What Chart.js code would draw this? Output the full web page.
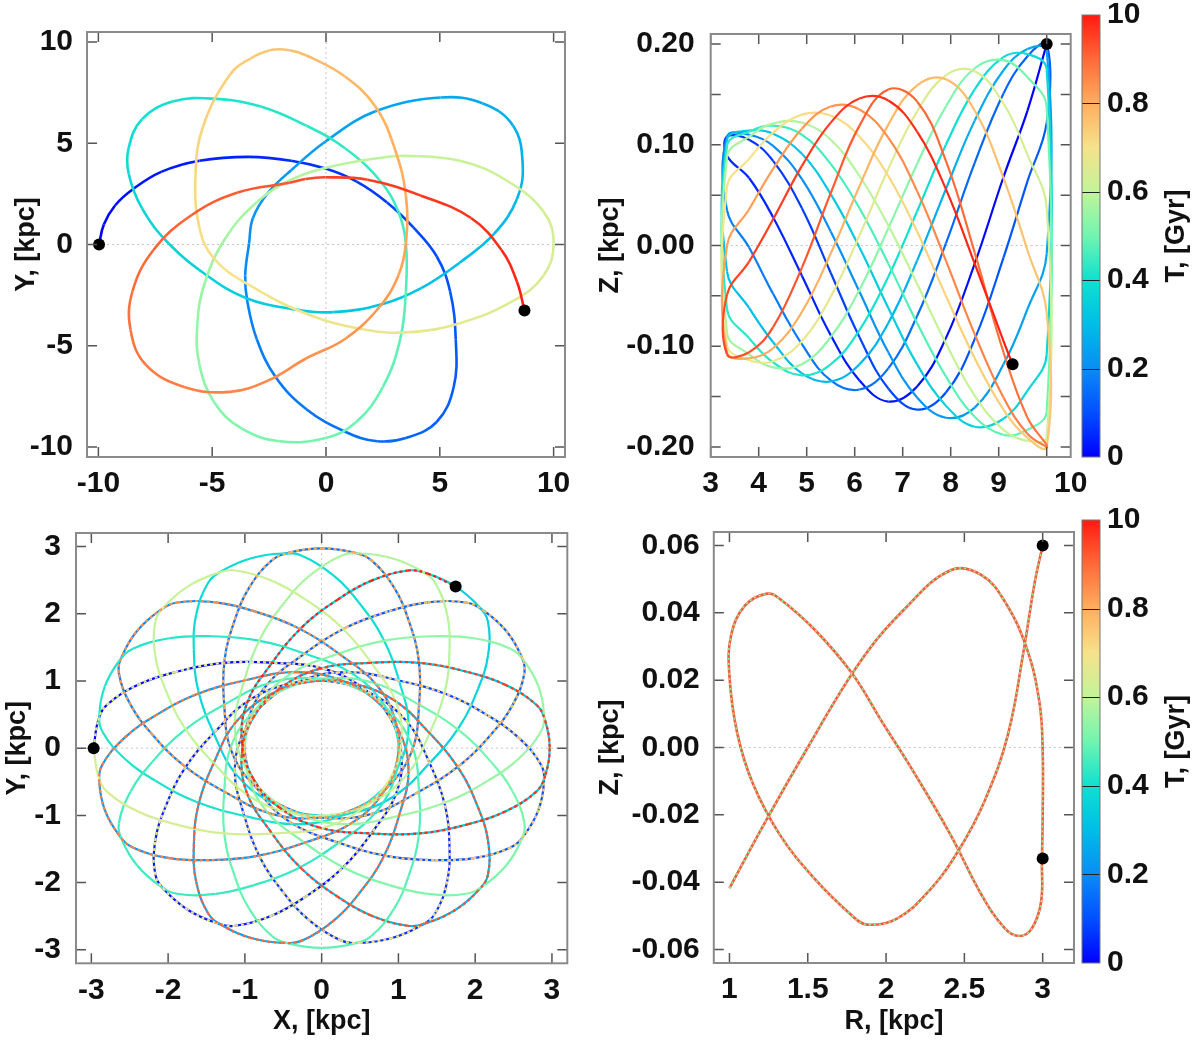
<!DOCTYPE html>
<html lang="en">
<head>
<meta charset="UTF-8">
<title>Orbit projections</title>
<script src="https://cdn.jsdelivr.net/npm/chart.js"></script>
<style>
  html, body { margin: 0; padding: 0; background: #fff; }
  body { width: 1200px; height: 1044px; position: relative; overflow: hidden; }
  canvas { position: absolute; }
</style>
</head>
<body>
<canvas id="xyWide" width="600" height="510" style="left:0;top:0"></canvas>
<canvas id="rzWide" width="505" height="510" style="left:590px;top:0"></canvas>
<canvas id="barTop" width="125" height="520" style="left:1075px;top:-10px"></canvas>
<canvas id="xyInner" width="600" height="544" style="left:0;top:500px"></canvas>
<canvas id="rzInner" width="490" height="544" style="left:590px;top:500px"></canvas>
<canvas id="barBottom" width="125" height="520" style="left:1075px;top:495px"></canvas>

<script>
// colour scale
const cbStops  = [0, 0.1, 0.2, 0.3, 0.4, 0.5, 0.6, 0.7, 0.8, 0.9, 1];
const cbColors = ['#0000ff', '#0050ff', '#0a8cf5', '#00bde8', '#10e0d0', '#70f5b0',
                  '#c2f49a', '#f6e28a', '#ffae5e', '#ff6a38', '#ff1a10'];
const cbTicks  = [0, 0.2, 0.4, 0.6, 0.8, 1];
const cbLabels = ['0', '0.2', '0.4', '0.6', '0.8', '10'];
const cbTitle  = 'T, [Gyr]';

// top left: X-Y orbit, kpc (traced in time order)
const tlX = [-9.97, -9.76, -9.26, -8.5, -7.24, -5.56, -3.38, -1.53, -0.02, 1.33,
  2.67, 3.85, 4.86, 5.45, 5.7, 5.61, 4.86, 3.51, 2.25, 0.82,
  -0.86, -2.2, -3.04, -3.46, -3.55, -3.38, -3.21, -2.54, -1.53, -0.02,
  2.17, 5.03, 6.87, 8.22, 8.64, 8.39, 7.38, 5.87, 4.18, 2.5,
  0.32, -1.53, -3.55, -5.23, -6.91, -8.08, -8.67, -8.67, -8.08, -6.74,
  -4.97, -2.87, -0.86, 0.82, 2.34, 3.18, 3.51, 3.51, 3.26, 2.5,
  1.33, -0.02, -2.03, -3.71, -4.89, -5.56, -5.65, -5.31, -4.39, -3.04,
  -1.53, 0.15, 2.5, 3.51, 5.87, 7.88, 9.56, 10.0, 9.56, 8.22,
  5.87, 3.68, 1.66, -0.86, -3.38, -4.89, -5.56, -5.73, -5.39, -4.22,
  -3.3, -2.37, -1.6, -0.86, 0.82, 2.17, 3.01, 3.51, 3.51, 3.18, 2.34, 0.82,
  -0.86, -2.54, -4.22, -6.24, -7.92, -8.59, -8.5, -7.58, -5.9, -3.88,
  -1.6, -0.9, -0.02, 1.83, 4.18, 6.37, 7.71, 8.39, 8.72];
const tlY = [0, 0.99, 1.94, 2.72, 3.59, 4.14, 4.33, 4.14, 3.75, 3.12,
  2.09, 0.83, -0.58, -2.31, -4.68, -7.04, -8.77, -9.56, -9.72, -9.24,
  -8.14, -6.57, -4.68, -2.79, -1.53, 0.05, 1.31, 2.57, 3.67, 5.09,
  6.58, 7.26, 6.98, 5.87, 3.98, 2.25, 0.52, -0.9, -2.16, -2.94,
  -3.34, -3.18, -2.63, -1.53, 0.05, 1.78, 3.51, 4.77, 6.19, 7.06,
  7.21, 6.82, 5.87, 4.77, 3.2, 1.62, 0.05, -2.31, -4.68, -7.04,
  -8.77, -9.56, -9.72, -9.09, -7.83, -5.94, -3.89, -1.84, 0.36, 2.09,
  3.2, 3.83, 4.3, 4.38, 4.14, 3.2, 1.62, 0.05, -1.53, -2.79,
  -3.89, -4.33, -4.2, -3.42, -2.0, -0.74, 0.83, 3.51, 5.87, 8.39,
  9.2, 9.62, 9.6, 9.34, 8.31, 6.82, 4.77, 2.41, 0.05, -1.53, -3.1, -4.68,
  -5.62, -6.72, -7.28, -7.04, -5.94, -4.2, -2.31, -0.27, 1.46, 2.57,
  3.05, 3.24, 3.32, 3.2, 2.41, 1.31, -0.27, -1.84, -3.26];
const tlTicks = [-10, -5, 0, 5, 10];

// top right: R-Z plane, one row of Z per radial pass (inward, outward, ...)
const trRIn   = [10, 9.6, 9.1, 8.5, 7.9, 7.3, 6.7, 6.1, 5.5, 4.9, 4.3, 3.8, 3.34];
const trROut  = [3.34, 3.8, 4.3, 4.9, 5.5, 6.1, 6.7, 7.3, 7.9, 8.5, 9.1, 9.6, 10];
const trRLast = [3.34, 3.8, 4.3, 4.9, 5.5, 6.1, 6.7, 7.3, 7.9, 8.5, 9.1, 9.29];
const trZPasses = [
  [0.2, 0.134, 0.068, -0.018, -0.092, -0.140, -0.155, -0.134, -0.089, -0.030, 0.028, 0.067, 0.089],
  [0.108, 0.105, 0.084, 0.037, -0.027, -0.091, -0.142, -0.163, -0.146, -0.093, -0.012, 0.064, 0.122],
  [0.2, 0.188, 0.151, 0.082, 0.002, -0.070, -0.122, -0.143, -0.134, -0.098, -0.048, -0.002, 0.035],
  [0.108, 0.110, 0.099, 0.066, 0.014, -0.046, -0.106, -0.151, -0.171, -0.161, -0.118, -0.063, -0.008],
  [0.194, 0.195, 0.174, 0.124, 0.056, -0.015, -0.077, -0.118, -0.135, -0.127, -0.096, -0.062, -0.026],
  [0.105, 0.114, 0.111, 0.091, 0.051, -0.002, -0.062, -0.118, -0.159, -0.180, -0.172, -0.144, -0.108],
  [0.175, 0.190, 0.187, 0.155, 0.100, 0.034, -0.031, -0.084, -0.118, -0.129, -0.116, -0.092, -0.063],
  [0.099, 0.113, 0.119, 0.110, 0.081, 0.037, -0.018, -0.077, -0.130, -0.170, -0.188, -0.183, -0.165],
  [0.137, 0.167, 0.184, 0.176, 0.138, 0.081, 0.017, -0.044, -0.091, -0.118, -0.121, -0.108, -0.087],
  [0.088, 0.108, 0.121, 0.122, 0.105, 0.069, 0.020, -0.038, -0.097, -0.149, -0.183, -0.194, -0.190],
  [0.037, 0.090, 0.141, 0.173, 0.169, 0.133, 0.076, 0.010, -0.051, -0.095, -0.115, -0.114, -0.099],
  [0.058, 0.086, 0.112, 0.130, 0.129, 0.108, 0.069, 0.014, -0.050, -0.112, -0.163, -0.191, -0.200],
  [-0.067, -0.005, 0.067, 0.134, 0.165, 0.159, 0.120, 0.059, -0.008, -0.066, -0.102, -0.112, -0.106],
  [0.000, 0.036, 0.076, 0.116, 0.138, 0.135, 0.107, 0.054, -0.015, -0.088, -0.151, -0.187, -0.200],
  [-0.198, -0.171, -0.106, -0.007, 0.084, 0.143, 0.155, 0.119, 0.052, -0.022, -0.081, -0.106, -0.108],
  [-0.049, -0.016, 0.026, 0.079, 0.122, 0.146, 0.144, 0.113, 0.056, -0.018, -0.095, -0.118]
];
const trRTicks = [3, 4, 5, 6, 7, 8, 9, 10];
const trZTicks = [-0.2, -0.15, -0.1, -0.05, 0, 0.05, 0.1, 0.15, 0.2];
const trEdgeLabel = '10';   // printed at the right edge of the frame in the original

// bottom left: petal orbit as polar data; apex angles (deg) in time order and
// the radius profile of one apex-to-apex arc (offset clockwise from the apex, deg)
const blApex = [180, -126, -72, -18, 36, 90, 144, -162, -108, -54, 0, 54, 108, 162, -144, -90,
  -36, 18, 72, 126, 180, -126, -72, -18, 36, 90, 144, -162, -108, -54, 0, 54];
const blPsi = [0, 8, 13, 21.5, 30.6, 44, 64, 91.5, 122, 153, 184, 214.5, 242, 262, 275.4, 284.5, 293, 298];
const blRad = [2.97, 2.94, 2.87, 2.57, 2.22, 1.82, 1.41, 1.18, 1.04, 1.0, 1.04, 1.18, 1.41, 1.82, 2.22, 2.57, 2.87, 2.94];
const blFirstCycleArcs = 20;
const blTicks = [-3, -2, -1, 0, 1, 2, 3];

// bottom right: R-Z loop, kpc
const brR = [1.0, 1.22, 1.5, 1.83, 2.12, 2.415, 2.61, 2.76, 2.90, 2.98,
  3.0, 3.0, 2.995, 2.99, 2.93, 2.85, 2.76, 2.61, 2.41, 2.17,
  1.98, 1.78, 1.54, 1.32, 1.24, 1.10, 1.01, 1.0, 1.05, 1.15,
  1.32, 1.54, 1.78, 1.88, 2.07, 2.27, 2.46, 2.63, 2.78, 2.88, 2.95, 3.0];
const brZ = [-0.0418, -0.0228, 0.0, 0.0252, 0.0412, 0.0527, 0.0512, 0.0432, 0.0292, 0.0132,
  -0.0008, -0.0208, -0.0338, -0.0458, -0.0538, -0.056, -0.0538, -0.0438, -0.0258, -0.0068,
  0.0072, 0.0222, 0.0352, 0.0442, 0.0457, 0.0422, 0.0332, 0.0212, 0.0042, -0.0108,
  -0.0258, -0.0388, -0.0498, -0.0526, -0.0508, -0.0428, -0.0308, -0.0158, 0.0042, 0.0292, 0.0492, 0.06];
const brMarkR = [3.0, 3.0];
const brMarkZ = [0.06, -0.033];
const brRTicks = [1, 1.5, 2, 2.5, 3];
const brZTicks = [-0.06, -0.04, -0.02, 0, 0.02, 0.04, 0.06];

const FAMILY = "'Liberation Sans', Arial, Helvetica, sans-serif";
Chart.defaults.font.family = FAMILY;
Chart.defaults.font.weight = 'bold';
Chart.defaults.color = '#111';
Chart.defaults.animation = false;

const TICK_FONT = { size: 30, weight: 'bold' };
const TITLE_FONT = { size: 27, weight: 'bold' };

// ---- helpers
const hexRgb = h => [1, 3, 5].map(i => parseInt(h.slice(i, i + 2), 16));
const cbRgb = cbColors.map(hexRgb);
function cmap(t) {
  t = Math.min(1, Math.max(0, t));
  let i = 0;
  while (i < cbStops.length - 2 && t > cbStops[i + 1]) i++;
  const f = (t - cbStops[i]) / (cbStops[i + 1] - cbStops[i]);
  const a = cbRgb[i], b = cbRgb[i + 1];
  return 'rgb(' + a.map((v, k) => Math.round(v + (b[k] - v) * f)).join(',') + ')';
}
const toPts = (xs, ys) => xs.map((x, i) => ({ x, y: ys[i] }));
const ramp = (n, from, total) => Array.from({ length: n }, (_, i) => cmap((from + i) / (total - 1)));

function trail(data, colours, width, extra) {
  return Object.assign({
    type: 'line', data, borderColor: colours[0], borderWidth: width,
    pointRadius: 0, tension: 0.4, fill: false, order: 2,
    segment: { borderColor: c => colours[c.p0DataIndex] }
  }, extra || {});
}
function dots(data) {
  return { type: 'scatter', data, pointRadius: 6, pointBackgroundColor: '#000',
           pointBorderWidth: 0, showLine: false, order: 0 };
}
function axis(min, max, vals, fmt, pad, fixed, title) {
  return {
    type: 'linear', min, max,
    afterBuildTicks: s => { s.ticks = vals.map(v => ({ value: v })); },
    afterFit: s => { if (s.isHorizontal()) s.height = fixed; else s.width = fixed; },
    grid: { display: false, drawTicks: false },
    border: { display: false },
    ticks: { callback: fmt, padding: pad, autoSkip: false, maxRotation: 0, color: '#111', font: TICK_FONT },
    title: title ? { display: true, text: title.text, padding: title.padding, color: '#111', font: TITLE_FONT }
                 : { display: false }
  };
}
function panel(x, y, top, right) {
  return {
    responsive: false, animation: false, events: [],
    layout: { padding: { top, right, left: 0, bottom: 0 } },
    plugins: { legend: { display: false }, tooltip: { enabled: false } },
    scales: { x, y }
  };
}
const plain = v => String(v);

// box, inner tick marks and dotted zero lines
const framePlugin = {
  id: 'frame',
  beforeDatasetsDraw(chart) {
    const { ctx, chartArea: a, scales: { x, y } } = chart;
    ctx.save();
    ctx.strokeStyle = '#c4c4c4';
    ctx.lineWidth = 1;
    ctx.setLineDash([2, 3]);
    ctx.beginPath();
    if (x.min < 0 && x.max > 0) { const p = x.getPixelForValue(0); ctx.moveTo(p, a.top); ctx.lineTo(p, a.bottom); }
    if (y.min < 0 && y.max > 0) { const p = y.getPixelForValue(0); ctx.moveTo(a.left, p); ctx.lineTo(a.right, p); }
    ctx.stroke();
    ctx.restore();
  },
  afterDatasetsDraw(chart) {
    const { ctx, chartArea: a, scales: { x, y } } = chart;
    const len = 10;
    ctx.save();
    ctx.strokeStyle = '#555';
    ctx.lineWidth = 1.5;
    ctx.beginPath();
    x.ticks.forEach(t => {
      const p = x.getPixelForValue(t.value);
      ctx.moveTo(p, a.bottom); ctx.lineTo(p, a.bottom - len);
      ctx.moveTo(p, a.top); ctx.lineTo(p, a.top + len);
    });
    y.ticks.forEach(t => {
      const p = y.getPixelForValue(t.value);
      ctx.moveTo(a.left, p); ctx.lineTo(a.left + len, p);
      ctx.moveTo(a.right, p); ctx.lineTo(a.right - len, p);
    });
    ctx.stroke();
    ctx.strokeStyle = '#8a8a8a';
    ctx.lineWidth = 2;
    ctx.strokeRect(a.left, a.top, a.width, a.height);
    ctx.restore();
  }
};

// last R label sits on the right edge of the frame, as in the original figure
const edgeLabelPlugin = {
  id: 'edgeLabel',
  afterDraw(chart) {
    const { ctx, chartArea: a } = chart;
    ctx.save();
    ctx.font = 'bold 30px ' + FAMILY;
    ctx.fillStyle = '#111';
    ctx.textAlign = 'center';
    ctx.textBaseline = 'middle';
    ctx.fillText(trEdgeLabel, a.right, a.bottom + 9 + 18);
    ctx.restore();
  }
};

// ---- top left
const tlPts = toPts(tlX, tlY);
new Chart(document.getElementById('xyWide'), {
  type: 'line',
  data: { datasets: [dots([tlPts[0], tlPts[tlPts.length - 1]]), trail(tlPts, ramp(tlPts.length, 0, tlPts.length), 2.6)] },
  options: panel(
    axis(-10.5, 10.5, tlTicks, plain, 9, 53),
    axis(-10.5, 10.5, tlTicks, plain, 14, 87, { text: 'Y, [kpc]', padding: { top: 10 } }),
    13, 35),
  plugins: [framePlugin]
});

// ---- top right
const trPts = [];
trZPasses.forEach((zs, p) => {
  const rs = p === trZPasses.length - 1 ? trRLast : (p % 2 === 0 ? trRIn : trROut);
  zs.forEach((z, j) => trPts.push({ x: rs[j], y: z }));
});
new Chart(document.getElementById('rzWide'), {
  type: 'line',
  data: { datasets: [dots([trPts[0], trPts[trPts.length - 1]]), trail(trPts, ramp(trPts.length, 0, trPts.length), 2.2)] },
  options: panel(
    axis(3, 10.5, trRTicks, v => (String(v) === trEdgeLabel ? '' : String(v)), 9, 53),
    axis(-0.21, 0.21, trZTicks, v => (Math.abs(Math.round(v * 100)) % 10 === 0 ? v.toFixed(2) : ''), 16, 120.7,
         { text: 'Z, [kpc]', padding: { top: 4 } }),
    11, 24.3),
  plugins: [framePlugin, edgeLabelPlugin]
});

// ---- bottom left
const blPts = [];
for (let k = 0; k < blApex.length - 1; k++) {
  blPsi.forEach((psi, j) => {
    const th = (blApex[k] - psi) * Math.PI / 180;
    blPts.push({ x: blRad[j] * Math.cos(th), y: blRad[j] * Math.sin(th) });
  });
}
const blEnd = blApex[blApex.length - 1] * Math.PI / 180;
blPts.push({ x: blRad[0] * Math.cos(blEnd), y: blRad[0] * Math.sin(blEnd) });
const blSplit = blFirstCycleArcs * blPsi.length;
const blFirst = blPts.slice(0, blSplit + 1);
const blSecond = blPts.slice(blSplit);
new Chart(document.getElementById('xyInner'), {
  type: 'line',
  data: { datasets: [
    dots([blPts[0], blPts[blPts.length - 1]]),
    trail(blSecond, ramp(blSecond.length, blSplit, blPts.length), 2.2, { borderDash: [3, 3], order: 1 }),
    trail(blFirst, ramp(blFirst.length, 0, blPts.length), 2.2)
  ] },
  options: panel(
    axis(-3.2, 3.2, blTicks, plain, 9, 80.7, { text: 'X, [kpc]', padding: { bottom: 6 } }),
    axis(-3.2, 3.2, blTicks, plain, 15, 76, { text: 'Y, [kpc]', padding: { top: 1 } }),
    18.3, 32.7),
  plugins: [framePlugin]
});

// ---- bottom right
const brPts = toPts(brR, brZ);
new Chart(document.getElementById('rzInner'), {
  type: 'line',
  data: { datasets: [
    dots(toPts(brMarkR, brMarkZ)),
    trail(brPts, brPts.map(() => '#9ee6a6'), 1.6, { borderDash: [2, 3], order: 1 }),
    trail(brPts, brPts.map(() => '#ee6038'), 2.6)
  ] },
  options: panel(
    axis(0.9, 3.2, brRTicks, plain, 9, 81, { text: 'R, [kpc]', padding: { bottom: 6 } }),
    axis(-0.064, 0.064, brZTicks, v => v.toFixed(2), 14, 123.8, { text: 'Z, [kpc]', padding: { top: 4 } }),
    18, 4.9),
  plugins: [framePlugin]
});

// ---- colour bars
function barGradient(chart) {
  const a = chart.chartArea;
  if (!a) return cbColors[0];
  const g = chart.ctx.createLinearGradient(0, a.bottom, 0, a.top);
  cbStops.forEach((s, i) => g.addColorStop(s, cbColors[i]));
  return g;
}
const colourbarPlugin = {
  id: 'colourbar',
  afterDatasetsDraw(chart) {
    const { ctx, chartArea: a, scales: { y } } = chart;
    ctx.save();
    ctx.strokeStyle = '#222';
    ctx.lineWidth = 1.2;
    ctx.beginPath();
    cbTicks.slice(1, -1).forEach(v => {
      const p = Math.round(y.getPixelForValue(v)) + 0.5;
      ctx.moveTo(a.left, p); ctx.lineTo(a.right, p);
    });
    ctx.stroke();
    ctx.strokeStyle = '#777';
    ctx.lineWidth = 1;
    ctx.strokeRect(a.left, a.top, a.width, a.height);
    ctx.translate(a.right + 77, (a.top + a.bottom) / 2);
    ctx.rotate(-Math.PI / 2);
    ctx.font = 'bold 27px ' + FAMILY;
    ctx.fillStyle = '#111';
    ctx.textAlign = 'center';
    ctx.textBaseline = 'middle';
    ctx.fillText(cbTitle, 0, 0);
    ctx.restore();
  }
};
function colourbar(id, top, bottom) {
  new Chart(document.getElementById(id), {
    type: 'bar',
    data: { labels: ['T'], datasets: [{ data: [[0, 1]], backgroundColor: c => barGradient(c.chart),
      borderWidth: 0, borderSkipped: false, barPercentage: 1, categoryPercentage: 1 }] },
    options: {
      responsive: false, animation: false, events: [],
      layout: { padding: { top, bottom, left: 7, right: 0 } },
      plugins: { legend: { display: false }, tooltip: { enabled: false } },
      scales: {
        x: { display: false },
        y: {
          position: 'right', min: 0, max: 1,
          afterBuildTicks: s => { s.ticks = cbTicks.map(v => ({ value: v })); },
          afterFit: s => { s.width = 100; },
          grid: { display: false, drawTicks: false },
          border: { display: false },
          ticks: { callback: (v, i) => cbLabels[i], padding: 7, autoSkip: false, color: '#111', font: TICK_FONT }
        }
      }
    },
    plugins: [colourbarPlugin]
  });
}
colourbar('barTop', 23, 53);
colourbar('barBottom', 23, 52);
</script>
</body>
</html>
